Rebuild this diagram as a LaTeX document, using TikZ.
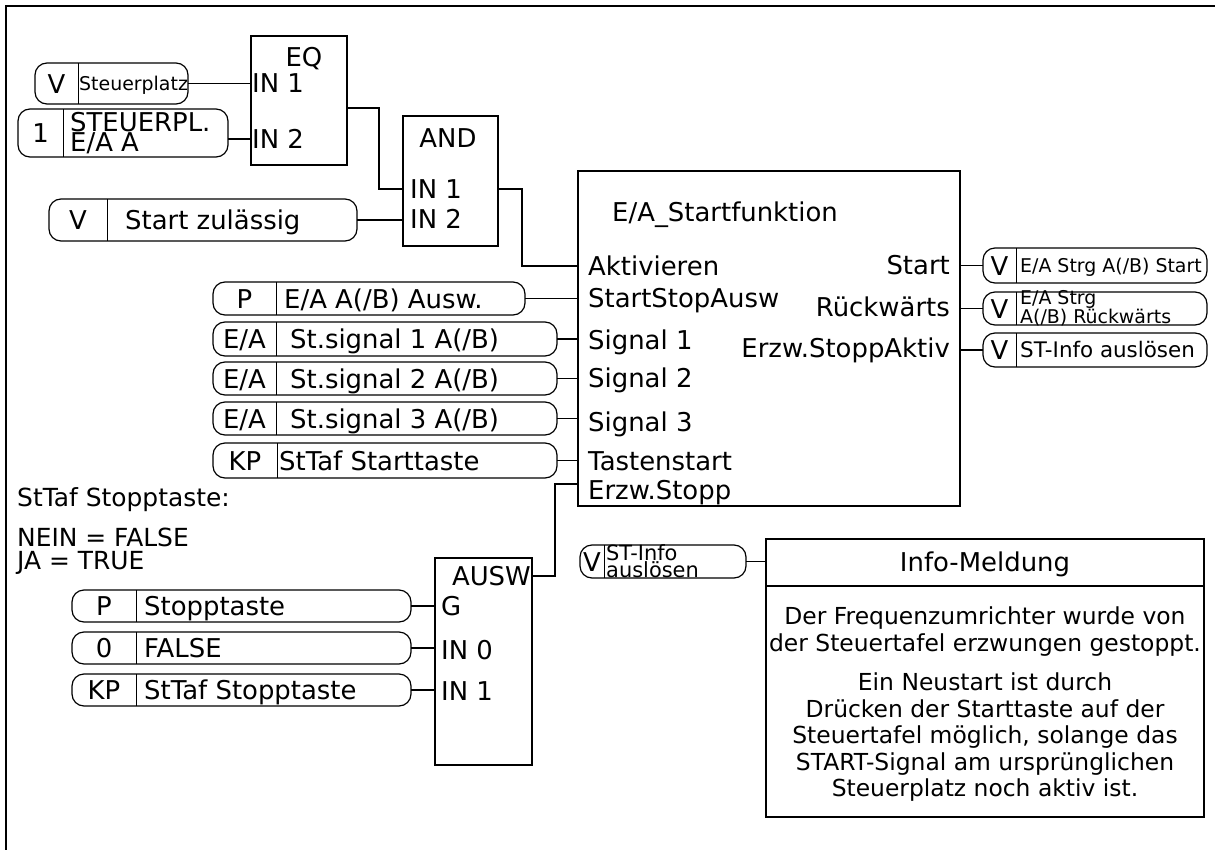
\documentclass[tikz,border=0pt]{standalone}
\usepackage{fontspec}
\setmainfont{DejaVu Sans}
\newcommand{\fsmain}{\fontsize{26}{28}\selectfont}
\newcommand{\fssmall}{\fontsize{19}{15}\selectfont}
\newcommand{\fsmid}{\fontsize{21.5}{15}\selectfont}
\newcommand{\fsnote}{\fontsize{25}{23}\selectfont}
\newcommand{\fsinfo}{\fontsize{23.5}{26.5}\selectfont}

\tikzset{
  txt/.style={font=\fsmain, inner sep=0pt, text height=19bp, text depth=0bp},
  small/.style={font=\fssmall, text height=13.9bp},
  mid/.style={font=\fsmid, text height=15.7bp},
  two/.style={align=left, text height=, text depth=},
  note/.style={font=\fsnote, inner sep=0pt},
  blk/.style={draw, line width=2bp, inner sep=0pt, outer sep=0pt},
  sig/.style={draw, line width=1.2bp, rounded corners=12bp, inner sep=0pt, outer sep=0pt},
  wire/.style={line width=1.3bp},
}

% rounded signal box: [label opts]{name}{x left}{x divider}{x right}{y top}{y bottom}{tag}{label}
\newcommand{\sigbox}[9][]{%
  \node[sig, minimum width={(#5-#3)*1bp}, minimum height={(#7-#6)*1bp},
    anchor=north west] (#2) at (#3,#6) {};
  \draw[line width=1bp] (#4,0 |- #2.north) -- (#4,0 |- #2.south);
  \node[txt] (#2-tag) at ({(#3+#4)/2},{(#6+#7)/2}) {#8};
  \node[txt, anchor=west, xshift=8bp, #1] (#2-lbl) at (#4,{(#6+#7)/2}) {#9};
}

\begin{document}
\begin{tikzpicture}[x=1bp, y=-1bp]
  \useasboundingbox (0,0) rectangle (1215,850);
  \draw[line width=2bp] (5.5,6) rectangle (1230,870);
  % --- EQ ---
  \node[blk, minimum width=96bp, minimum height=129bp, anchor=north west] (eq) at (251,36) {};
  \node[txt] (eq-t) at (304,57) {EQ};
  \node[txt, anchor=west] (eq-in1) at (252,83) {IN 1};
  \node[txt, anchor=west] (eq-in2) at (252,139) {IN 2};
  \coordinate (eq-out) at (347,108);
  \sigbox[small, xshift=-7bp]{stplatz}{35}{78}{188}{63}{104}{V}{Steuerplatz}
  \sigbox[two, font={\fontsize{26}{20}\selectfont}, xshift=-1bp]{stpl}{18}{63}{228}{109}{157}{1}{STEUERPL.\\E/A A}
  \draw[wire] (stplatz.east) -- (stplatz.east -| eq.west);
  \draw[wire] (stpl.east |- eq-in2) -- (eq-in2 -| eq.west);
  % --- AND ---
  \node[blk, minimum width=95bp, minimum height=130bp, anchor=north west] (andg) at (403,116) {};
  \node[txt] (andg-t) at (448,138) {AND};
  \node[txt, anchor=west] (andg-in1) at (410,189) {IN 1};
  \node[txt, anchor=west] (andg-in2) at (410,219) {IN 2};
  \coordinate (andg-out) at (498,189);
  \sigbox[xshift=10bp]{zul}{49}{107}{357}{199}{241}{V}{Start zulässig}
  \draw[wire] (eq-out) -- ++(32,0) |- (andg-in1 -| andg.west);
  \draw[wire] (zul.east) -- (zul.east -| andg.west);
  % --- E/A_Startfunktion ---
  \node[blk, minimum width=382bp, minimum height=335bp, anchor=north west] (ea) at (578,171) {};
  \node[txt, anchor=west] (ea-t) at (612,212) {E/A\_Startfunktion};
  \node[txt, anchor=west] (ea-akt) at (588,266) {Aktivieren};
  \node[txt, anchor=west] (ea-ssa) at (588,298) {StartStopAusw};
  \node[txt, anchor=west] (ea-s1) at (588,340) {Signal 1};
  \node[txt, anchor=west] (ea-s2) at (588,378) {Signal 2};
  \node[txt, anchor=west] (ea-s3) at (588,422) {Signal 3};
  \node[txt, anchor=west] (ea-tst) at (588,461) {Tastenstart};
  \node[txt, anchor=west] (ea-erz) at (588,490) {Erzw.Stopp};
  \node[txt, anchor=east] (ea-start) at (950,265) {Start};
  \node[txt, anchor=east] (ea-rev) at (950,307) {Rückwärts};
  \node[txt, anchor=east] (ea-esa) at (950,348) {Erzw.StoppAktiv};
  \coordinate (ea-stop) at (578,484);
  \draw[wire] (andg-out) -- ++(24,0) |- (ea-akt -| ea.west);
  % inputs
  \sigbox{ausw}{213}{276}{525}{282}{315}{P}{E/A A(/B) Ausw.}
  \sigbox[xshift=6bp]{sig1}{213}{276}{557}{322}{356}{E/A}{St.signal 1 A(/B)}
  \sigbox[xshift=6bp]{sig2}{213}{276}{557}{362}{395}{E/A}{St.signal 2 A(/B)}
  \sigbox[xshift=6bp]{sig3}{213}{276}{557}{402}{435}{E/A}{St.signal 3 A(/B)}
  \sigbox[xshift=-6bp]{kpst}{213}{277}{557}{443}{478}{KP}{StTaf Starttaste}
  \foreach \b in {ausw,sig1,sig2,sig3,kpst}
    \draw[wire] (\b.east) -- (\b.east -| ea.west);
  % outputs
  \sigbox[small, xshift=-4bp]{ostart}{983}{1016}{1207}{248}{283}{V}{E/A Strg A(/B) Start}
  \sigbox[small, two, xshift=-4bp]{orev}{983}{1016}{1207}{292}{325}{V}{E/A Strg\\A(/B) Rückwärts}
  \sigbox[mid, xshift=-4bp]{oinfo}{983}{1016}{1207}{333}{367}{V}{ST-Info auslösen}
  \foreach \b in {ostart,orev,oinfo}
    \draw[wire] (\b.west -| ea.east) -- (\b.west);
  % --- AUSW ---
  \node[note, anchor=west] (stop-hdr) at (17,500) {StTaf Stopptaste:};
  \node[note, anchor=north west, align=left] (stop-map) at (17,528) {NEIN = FALSE\\JA = TRUE};
  \node[blk, minimum width=97bp, minimum height=207bp, anchor=north west] (aus) at (435,558) {};
  \node[txt, anchor=east] (aus-t) at (531,576) {AUSW};
  \node[txt, anchor=west] (aus-g) at (441,606) {G};
  \node[txt, anchor=west] (aus-in0) at (441,650) {IN 0};
  \node[txt, anchor=west] (aus-in1) at (441,691) {IN 1};
  \sigbox{stp}{72}{136}{411}{590}{622}{P}{Stopptaste}
  \sigbox{fls}{72}{136}{411}{632}{664}{0}{FALSE}
  \sigbox{kpsp}{72}{136}{411}{674}{706}{KP}{StTaf Stopptaste}
  \foreach \b in {stp,fls,kpsp}
    \draw[wire] (\b.east) -- (\b.east -| aus.west);
  \draw[wire] (aus-t -| aus.east) -- ++(23,0) |- (ea-stop);
  % --- Info-Meldung ---
  \sigbox[small, two, font={\fontsize{21}{15}\selectfont}, xshift=-6bp]{trig}{580}{604}{746}{545}{578}{V}{ST-Info\\auslösen}
  \node[draw, line width=1.5bp, minimum width=438bp, minimum height=278bp,
    inner sep=0pt, outer sep=0pt, anchor=north west] (info) at (766,539) {};
  \draw[line width=1.5bp] (info.west |- 0,586) -- (info.east |- 0,586);
  \node[txt] (info-hdr) at (985,562) {Info-Meldung};
  \node[font=\fsinfo, inner sep=0pt, align=center, anchor=north] (info-txt) at (985,607)
    {Der Frequenzumrichter wurde von\\
     der Steuertafel erzwungen gestoppt.\\[13bp]
     Ein Neustart ist durch\\
     Drücken der Starttaste auf der\\
     Steuertafel möglich, solange das\\
     START-Signal am ursprünglichen\\
     Steuerplatz noch aktiv ist.};
  \draw[wire] (trig.east) -- (trig.east -| info.west);
\end{tikzpicture}
\end{document}
